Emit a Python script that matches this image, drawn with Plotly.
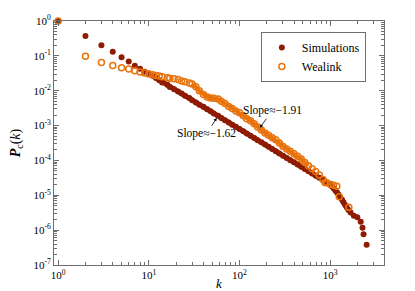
import plotly.graph_objects as go

# ---- data ----
sim_k = [1, 2, 3, 4, 5, 6, 7, 8, 9, 10, 11, 12, 13, 14, 16, 17, 19, 21, 23, 25, 28, 30,
         33, 36, 40, 44, 48, 52, 58, 63, 69, 76, 83, 91, 100, 110, 120, 132, 145, 158,
         174, 191, 209, 229, 251, 275, 302, 331, 363, 398, 437, 479, 525, 575, 631, 692,
         759, 832, 912, 1000, 1050, 1090, 1140, 1190, 1240, 1290, 1350, 1400, 1460, 1520,
         1590, 1675, 1820, 1990, 2170, 2270, 2330, 2520]
sim_p = [1.0, 0.37, 0.20, 0.132, 0.091, 0.069, 0.052, 0.043, 0.035, 0.031, 2.67e-2, 2.31e-2,
         1.99e-2, 1.72e-2, 1.49e-2, 1.28e-2, 1.11e-2, 9.57e-3, 8.28e-3, 7.14e-3, 6.17e-3,
         5.33e-3, 4.60e-3, 3.98e-3, 3.44e-3, 2.96e-3, 2.56e-3, 2.21e-3, 1.91e-3, 1.65e-3,
         1.43e-3, 1.23e-3, 1.06e-3, 9.20e-4, 7.94e-4, 6.85e-4, 5.93e-4, 5.12e-4, 4.43e-4,
         3.82e-4, 3.30e-4, 2.85e-4, 2.46e-4, 2.13e-4, 1.84e-4, 1.58e-4, 1.37e-4, 1.18e-4,
         1.02e-4, 8.83e-5, 7.62e-5, 6.59e-5, 5.69e-5, 4.92e-5, 4.25e-5, 3.66e-5, 3.17e-5,
         2.74e-5, 2.37e-5, 2.04e-5, 1.80e-5, 1.58e-5, 1.38e-5, 1.20e-5, 1.04e-5, 8.9e-6,
         7.5e-6, 6.3e-6, 5.3e-6, 4.5e-6, 3.8e-6, 3.2e-6, 2.6e-6, 2.34e-6, 1.74e-6, 1.17e-6,
         7.6e-7, 3.8e-7]

wea_k = [1, 2, 3, 4, 5, 6, 7, 8, 9, 10, 11, 12, 13, 14, 16, 17, 19, 21, 23, 25, 28, 30,
         33, 36, 40, 44, 48, 52, 58, 63, 69, 76, 83, 91, 100, 110, 120, 132, 145, 158,
         174, 191, 209, 229, 251, 275, 302, 331, 363, 398, 437, 479, 525, 575, 631, 692,
         759, 832, 873, 912, 1000, 1090, 1183, 1257, 1606]
wea_p = [1.0, 0.098, 0.0646, 0.0525, 0.0457, 0.0417, 0.0372, 0.0347, 0.0324, 3.02e-2,
         2.85e-2, 2.75e-2, 2.63e-2, 2.51e-2, 2.37e-2, 2.29e-2, 2.19e-2, 2.09e-2, 1.91e-2,
         1.82e-2, 1.66e-2, 1.55e-2, 1.29e-2, 1.00e-2, 7.76e-3, 6.61e-3, 6.17e-3, 6.03e-3,
         5.75e-3, 5.01e-3, 4.27e-3, 3.55e-3, 3.09e-3, 2.63e-3, 2.34e-3, 1.91e-3, 1.58e-3,
         1.38e-3, 1.12e-3, 9.12e-4, 7.41e-4, 6.17e-4, 5.25e-4, 4.47e-4, 3.89e-4, 3.16e-4,
         2.51e-4, 2.14e-4, 1.82e-4, 1.55e-4, 1.32e-4, 1.10e-4, 8.71e-5, 7.08e-5, 5.75e-5,
         4.79e-5, 3.80e-5, 2.82e-5, 2.34e-5, 2.29e-5, 2.09e-5, 1.95e-5, 1.82e-5, 9.12e-6,
         4.57e-6]

x_tick_vals = [1, 10, 100, 1000]
x_tick_text = ["10<sup>0</sup>", "10<sup>1</sup>", "10<sup>2</sup>", "10<sup>3</sup>"]
y_tick_vals = [1, 1e-1, 1e-2, 1e-3, 1e-4, 1e-5, 1e-6, 1e-7]
y_tick_text = ["10<sup>0</sup>", "10<sup>-1</sup>", "10<sup>-2</sup>", "10<sup>-3</sup>",
               "10<sup>-4</sup>", "10<sup>-5</sup>", "10<sup>-6</sup>", "10<sup>-7</sup>"]

DARK = "#8e1b03"
ORANGE = "#e8730c"
AX = "#6e6e6e"
FONT = "Liberation Serif"

fig = go.Figure()
# dense band of the simulations (same data, drawn as a thick line under the dots)
fig.add_trace(go.Scatter(x=sim_k[9:66], y=sim_p[9:66], mode="lines", showlegend=False,
                         hoverinfo="skip", cliponaxis=False,
                         line=dict(color=DARK, width=5)))
fig.add_trace(go.Scatter(x=sim_k, y=sim_p, mode="markers", name="Simulations",
                         cliponaxis=False,
                         marker=dict(color=DARK, size=6, line=dict(width=0))))
# dense band of Wealink
fig.add_trace(go.Scatter(x=wea_k[21:54], y=wea_p[21:54], mode="lines", showlegend=False,
                         hoverinfo="skip", cliponaxis=False,
                         line=dict(color=ORANGE, width=4)))
fig.add_trace(go.Scatter(x=wea_k, y=wea_p, mode="markers", name="Wealink",
                         cliponaxis=False,
                         marker=dict(color=ORANGE, size=6, symbol="circle-open",
                                     line=dict(color=ORANGE, width=1.5))))

x_minor = [m * 10 ** e for e in range(0, 4) for m in range(2, 10) if m * 10 ** e < 3920]
y_minor = [m * 10.0 ** e for e in range(-7, 0) for m in range(2, 10)]

common = dict(showgrid=False, zeroline=False, showline=True, linecolor=AX, linewidth=1,
              mirror="allticks", ticks="inside", ticklen=5, tickcolor=AX, tickwidth=1,
              automargin=False,
              tickfont=dict(family=FONT, size=11, color="black"))

fig.update_xaxes(type="log", range=[-0.0458, 3.593], tickmode="array",
                 tickvals=x_tick_vals, ticktext=x_tick_text,
                 minor=dict(ticks="inside", ticklen=3, tickcolor=AX, tickmode="array",
                            tickvals=x_minor, showgrid=False),
                 title=dict(text="<i>k</i>", font=dict(family=FONT, size=13, color="black")),
                 **common)
fig.update_yaxes(type="log", range=[-7, 0], tickmode="array",
                 tickvals=y_tick_vals, ticktext=y_tick_text,
                 minor=dict(ticks="inside", ticklen=3, tickcolor=AX, tickmode="array",
                            tickvals=y_minor, showgrid=False),
                 title=dict(text="<b><i>P</i></b><sub>c</sub>(<i>k</i>)",
                            font=dict(family=FONT, size=14, color="black")),
                 **common)

fig.add_annotation(x=1.748, y=-2.78, xref="x", yref="y", text="Slope≈−1.62",
                   showarrow=True, arrowhead=2, arrowsize=0.8, arrowwidth=0.8,
                   arrowcolor="black", ax=-10, ay=16,
                   font=dict(family=FONT, size=11.5, color="black"))
fig.add_annotation(x=2.226, y=-3.06, xref="x", yref="y", text="Slope≈−1.91",
                   showarrow=True, arrowhead=2, arrowsize=0.8, arrowwidth=0.8,
                   arrowcolor="black", ax=12, ay=-17,
                   font=dict(family=FONT, size=11.5, color="black"))

# the page body adds an 8px offset, so the figure is 8px smaller and margins shifted
fig.update_layout(
    width=407, height=283,
    margin=dict(l=46, r=31, t=13, b=26),
    paper_bgcolor="white", plot_bgcolor="white",
    showlegend=True,
    legend=dict(x=0.945, y=0.955, xanchor="right", yanchor="top",
                bordercolor=AX, borderwidth=1, bgcolor="white",
                font=dict(family=FONT, size=12, color="black"),
                itemwidth=30, tracegroupgap=0),
)

fig.write_html("out.html")
